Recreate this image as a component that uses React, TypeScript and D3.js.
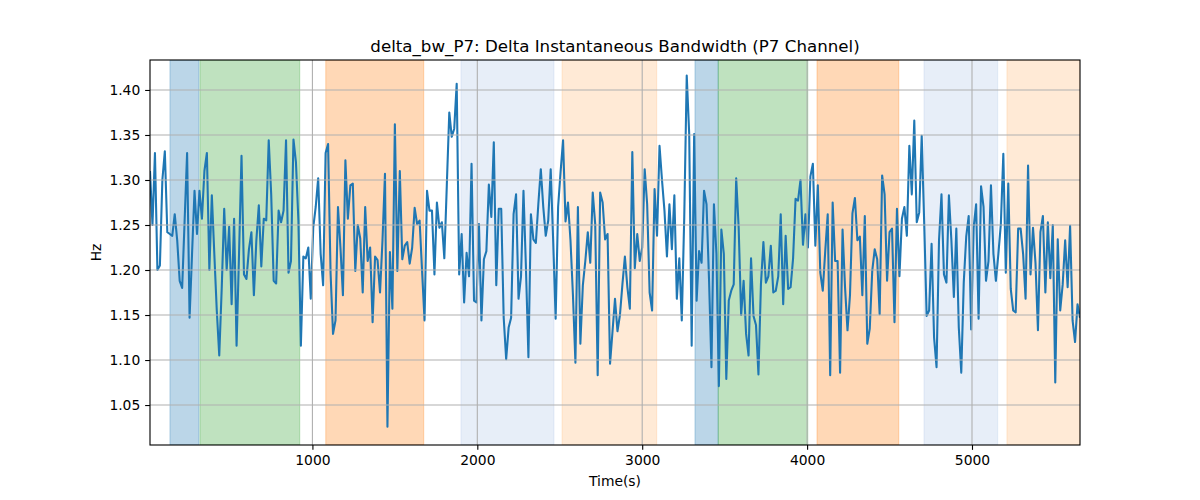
import React, { useEffect, useRef } from "react";
import * as d3 from "d3";

const T0 = 15;
const STEP = 15;
const X_MIN = 15;
const X_MAX = 5655;
const Y_MIN = 1.0056;
const Y_MAX = 1.4333;

const values: number[] = [
  // segment 1
  1.31, 1.25, 1.33, 1.20, 1.205, 1.30, 1.332, 1.242, 1.24, 1.238, 1.262, 1.233, 1.188, 1.18, 1.255, 1.33, 1.147, 1.218, 1.288, 1.24, 1.288, 1.257, 1.31, 1.33, 1.20, 1.283, 1.218, 1.155, 1.105, 1.18, 1.268, 1.20, 1.248, 1.162, 1.257, 1.116, 1.218, 1.327, 1.195, 1.19, 1.223, 1.242, 1.172, 1.233, 1.272, 1.204, 1.257, 1.255, 1.344, 1.284, 1.188, 1.185,
  // segment 2
  1.266, 1.253, 1.266, 1.344, 1.197, 1.21, 1.345, 1.32, 1.255, 1.116, 1.215, 1.213, 1.225, 1.168, 1.247, 1.27, 1.302, 1.218, 1.183, 1.33, 1.34, 1.197, 1.129, 1.144, 1.27, 1.225, 1.172, 1.322, 1.257, 1.294, 1.296, 1.199, 1.25, 1.235, 1.175, 1.27, 1.21, 1.225, 1.142, 1.215, 1.211, 1.175, 1.233, 1.307, 1.026, 1.22, 1.157,
  // segment 3
  1.362, 1.199, 1.31, 1.212, 1.227, 1.231, 1.207, 1.225, 1.269, 1.251, 1.255, 1.199, 1.144, 1.288, 1.266, 1.266, 1.195, 1.275, 1.247, 1.253, 1.213, 1.294, 1.375, 1.348, 1.357, 1.407, 1.195, 1.24, 1.164, 1.219, 1.193, 1.318, 1.166, 1.164, 1.251, 1.144, 1.212, 1.221, 1.295, 1.259, 1.342, 1.183, 1.268, 1.268, 1.147, 1.101, 1.136, 1.147,
  // segment 4
  1.262, 1.284, 1.168, 1.193, 1.288, 1.202, 1.103, 1.262, 1.234, 1.23, 1.273, 1.312, 1.27, 1.238, 1.255, 1.312, 1.233, 1.146, 1.27, 1.309, 1.344, 1.254, 1.275, 1.233, 1.172, 1.097, 1.27, 1.118, 1.183, 1.21, 1.242, 1.208, 1.286, 1.251, 1.083, 1.286, 1.275, 1.234, 1.24, 1.096, 1.132, 1.168, 1.132, 1.15, 1.184, 1.215, 1.181, 1.157, 1.331,
  // segment 5
  1.202, 1.24, 1.21, 1.225, 1.312, 1.273, 1.175, 1.155, 1.29, 1.238, 1.338, 1.30, 1.266, 1.215, 1.273, 1.223, 1.283, 1.168, 1.213, 1.144, 1.259, 1.416, 1.351, 1.116, 1.351, 1.166, 1.221, 1.208, 1.288, 1.273, 1.191, 1.092, 1.273, 1.218, 1.071, 1.245, 1.218, 1.079, 1.166, 1.177, 1.184, 1.302, 1.247, 1.15, 1.188, 1.129, 1.105, 1.213,
  // segment 6
  1.149, 1.139, 1.084, 1.184, 1.231, 1.186, 1.193, 1.227, 1.175, 1.177, 1.193, 1.262, 1.162, 1.238, 1.179, 1.181, 1.213, 1.279, 1.277, 1.30, 1.228, 1.262, 1.225, 1.304, 1.318, 1.227, 1.294, 1.197, 1.177, 1.221, 1.262, 1.083, 1.275, 1.21, 1.21, 1.086, 1.245, 1.181, 1.133, 1.172, 1.263, 1.28, 1.233, 1.237, 1.172, 1.26, 1.118,
  // segment 7
  1.135, 1.199, 1.223, 1.212, 1.151, 1.305, 1.284, 1.188, 1.242, 1.246, 1.142, 1.268, 1.193, 1.257, 1.27, 1.238, 1.338, 1.284, 1.366, 1.253, 1.264, 1.349, 1.253, 1.149, 1.155, 1.229, 1.125, 1.092, 1.233, 1.284, 1.195, 1.186, 1.283, 1.233, 1.17, 1.246, 1.136, 1.086, 1.186, 1.237, 1.26, 1.134, 1.247, 1.273, 1.146, 1.293, 1.27, 1.188, 1.21, 1.294,
  // segment 8
  1.218, 1.188, 1.218, 1.251, 1.329, 1.197, 1.296, 1.179, 1.155, 1.153, 1.246, 1.246, 1.218, 1.168, 1.316, 1.195, 1.247, 1.208, 1.133, 1.242, 1.26, 1.175, 1.253, 1.191, 1.25, 1.075, 1.234, 1.155, 1.184, 1.233, 1.181, 1.249, 1.144, 1.12, 1.162, 1.147,
];

const times: number[] = values.map((_, i) => T0 + i * STEP);

const bandStarts: number[] = [136, 318, 1081, 1901, 2514, 3320, 3461, 4060, 4709, 5212];
const bandEnds: number[] = [312, 923, 1675, 2465, 3088, 3461, 4004, 4556, 5156, 5655];
const bandColors: string[] = [
  "#1f77b4", "#2ca02c", "#ff7f0e", "#aec7e8", "#ffbb78",
  "#1f77b4", "#2ca02c", "#ff7f0e", "#aec7e8", "#ffbb78",
];

const xTicks: number[] = [1000, 2000, 3000, 4000, 5000];
const yTicks: number[] = [1.05, 1.1, 1.15, 1.2, 1.25, 1.3, 1.35, 1.4];

const TITLE = "delta_bw_P7: Delta Instantaneous Bandwidth (P7 Channel)";
const X_LABEL = "Time(s)";
const Y_LABEL = "Hz";

export default function App() {
  const ref = useRef<SVGSVGElement | null>(null);

  useEffect(() => {
    const W = 1200, H = 500;
    const m = { left: 150, right: 120, top: 60, bottom: 55 };
    const svg = d3.select(ref.current);
    svg.selectAll("*").remove();
    const font = "DejaVu Sans, sans-serif";
    const pt = 100 / 72;

    const x = d3.scaleLinear().domain([X_MIN, X_MAX]).range([m.left, W - m.right]);
    const y = d3.scaleLinear().domain([Y_MIN, Y_MAX]).range([H - m.bottom, m.top]);

    svg.append("rect").attr("width", W).attr("height", H).attr("fill", "#fff");

    const clip = svg.append("defs").append("clipPath").attr("id", "plotclip");
    clip.append("rect").attr("x", m.left).attr("y", m.top)
      .attr("width", W - m.left - m.right).attr("height", H - m.top - m.bottom);

    const plot = svg.append("g").attr("clip-path", "url(#plotclip)");

    // bands
    bandStarts.forEach((s, i) => {
      plot.append("rect")
        .attr("x", x(s)).attr("y", m.top)
        .attr("width", x(bandEnds[i]) - x(s)).attr("height", H - m.top - m.bottom)
        .attr("fill", bandColors[i]).attr("fill-opacity", 0.3)
        .attr("stroke", bandColors[i]).attr("stroke-opacity", 0.3).attr("stroke-width", 1);
    });

    // grid
    const grid = svg.append("g");
    xTicks.forEach((t) => {
      grid.append("line").attr("x1", x(t)).attr("x2", x(t))
        .attr("y1", m.top).attr("y2", H - m.bottom)
        .attr("stroke", "#b0b0b0").attr("stroke-width", 0.8 * pt);
    });
    yTicks.forEach((t) => {
      grid.append("line").attr("x1", m.left).attr("x2", W - m.right)
        .attr("y1", y(t)).attr("y2", y(t))
        .attr("stroke", "#b0b0b0").attr("stroke-width", 0.8 * pt);
    });

    // line
    const line = d3.line<number>().x((_, i) => x(times[i])).y((d) => y(d));
    plot.append("path").datum(values).attr("d", line)
      .attr("fill", "none").attr("stroke", "#1f77b4").attr("stroke-width", 1.5 * pt)
      .attr("stroke-linejoin", "round").attr("stroke-linecap", "butt");

    // spines
    svg.append("rect").attr("x", m.left).attr("y", m.top)
      .attr("width", W - m.left - m.right).attr("height", H - m.top - m.bottom)
      .attr("fill", "none").attr("stroke", "#000").attr("stroke-width", 0.8 * pt);

    // axes
    const xAxis = d3.axisBottom(x).tickValues(xTicks).tickSize(3.5 * pt).tickPadding(3.5 * pt)
      .tickFormat(d3.format("d") as any);
    const gx = svg.append("g").attr("transform", `translate(0,${H - m.bottom})`).call(xAxis);
    const yAxis = d3.axisLeft(y).tickValues(yTicks).tickSize(3.5 * pt).tickPadding(3.5 * pt)
      .tickFormat(d3.format(".2f") as any);
    const gy = svg.append("g").attr("transform", `translate(${m.left},0)`).call(yAxis);
    [gx, gy].forEach((g) => {
      g.select(".domain").remove();
      g.selectAll(".tick line").attr("stroke", "#000").attr("stroke-width", 0.8 * pt);
      g.selectAll(".tick text").attr("font-family", font).attr("font-size", 10 * pt).attr("fill", "#000");
    });

    svg.append("text").attr("x", (m.left + W - m.right) / 2).attr("y", 52)
      .attr("text-anchor", "middle").attr("font-family", font).attr("font-size", 12 * pt)
      .attr("fill", "#000").text(TITLE);
    svg.append("text").attr("x", (m.left + W - m.right) / 2).attr("y", 486)
      .attr("text-anchor", "middle").attr("font-family", font).attr("font-size", 10 * pt)
      .attr("fill", "#000").text(X_LABEL);
    svg.append("text").attr("transform", `translate(101,${(m.top + H - m.bottom) / 2}) rotate(-90)`)
      .attr("text-anchor", "middle").attr("font-family", font).attr("font-size", 10 * pt)
      .attr("fill", "#000").text(Y_LABEL);
  }, []);

  return (
    <svg ref={ref} width={1200} height={500}
      style={{ position: "absolute", left: 0, top: 0, display: "block" }} />
  );
}
